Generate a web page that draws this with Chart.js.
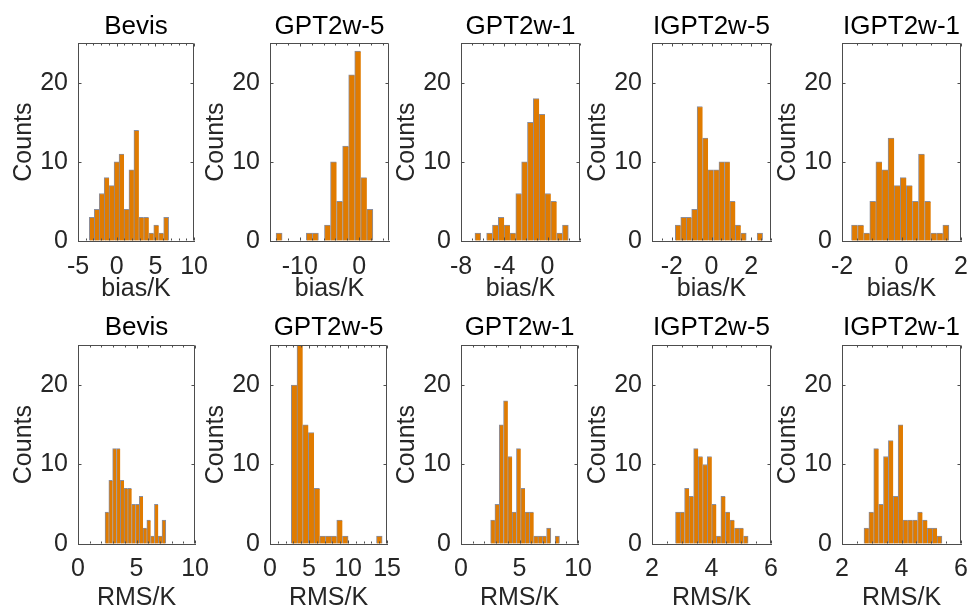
<!DOCTYPE html>
<html>
<head>
<meta charset="utf-8">
<script src="https://cdn.jsdelivr.net/npm/chart.js@4.4.1/dist/chart.umd.min.js"></script>
<style>
  html, body { margin: 0; padding: 0; background: #fff; width: 968px; height: 609px; overflow: hidden; }
  #wrap { position: relative; width: 968px; height: 609px; }
  #wrap canvas { position: absolute; }
</style>
</head>
<body>
<div id="wrap"></div>
<script>
// panel titles, same for both rows
const titles = ['Bevis', 'GPT2w-5', 'GPT2w-1', 'IGPT2w-5', 'IGPT2w-1'];

// bias histograms (counts per bin)
const biasBevis = [3, 4, 6, 8, 7, 10, 11, 4, 9, 14, 3, 3, 1, 2, 1, 3];
const biasGpt5  = [1, 0, 0, 0, 0, 1, 1, 0, 2, 10, 5, 12, 21, 24, 8, 4];
const biasGpt1  = [1, 0, 1, 2, 3, 2, 1, 6, 10, 15, 18, 16, 6, 5, 1, 2];
const biasIgpt5 = [2, 3, 3, 4, 17, 13, 9, 9, 10, 10, 5, 2, 1, 0, 0, 1];
const biasIgpt1 = [2, 2, 1, 5, 10, 9, 13, 7, 8, 7, 5, 11, 5, 1, 1, 2];

// RMS histograms (counts per bin)
const rmsBevis  = [4, 8, 12, 12, 8, 7, 7, 5, 5, 6, 2, 3, 1, 5, 1, 3];
const rmsGpt5   = [20, 25, 15, 14, 7, 1, 1, 1, 3, 1, 0, 0, 0, 0, 0, 1];
const rmsGpt1   = [3, 5, 15, 18, 11, 4, 12, 7, 4, 4, 1, 1, 1, 2, 0, 1];
const rmsIgpt5  = [4, 4, 7, 6, 12, 11, 10, 11, 5, 1, 6, 4, 3, 2, 2, 1];
const rmsIgpt1  = [2, 4, 12, 5, 11, 13, 6, 15, 3, 3, 3, 4, 3, 2, 2, 1];

// first and last bin edge of each histogram
const biasEdges = [[-3.54, 6.71], [-13.98, 2.29], [-6.71, 1.92], [-1.825, 2.577], [-1.68, 1.595]];
const rmsEdges  = [[2.31, 7.5], [2.73, 14.37], [2.53, 8.41], [2.79, 5.23], [2.74, 5.36]];

// x axis limits and tick labels
const biasLimits = [[-5, 10], [-15, 5], [-8, 3], [-3, 3], [-2, 2]];
const biasTicks  = [[-5, 0, 5, 10], [-10, 0], [-8, -4, 0], [-2, 0, 2], [-2, 0, 2]];
const biasMinor  = [1, 2, 1, 0.5, 0.5];
const rmsLimits  = [[0, 10], [0, 15], [0, 10], [2, 6], [2, 6]];
const rmsTicks   = [[0, 5, 10], [0, 5, 10, 15], [0, 5, 10], [2, 4, 6], [2, 4, 6]];
const rmsMinor   = [1, 1, 1, 0.5, 0.5];
const countTicks = [0, 10, 20];

Chart.defaults.font.family = "'Liberation Sans', Arial, Helvetica, sans-serif";
Chart.defaults.color = '#262626';

const boxLeft = [78, 270, 461, 652, 842];
const boxW = 119;
const yAxisW = 78;
const padRight = 22;
const frameColor = '#4d4d4d';
const rows = [
  { top: 0,   height: 302, padTop: 11, titleGap: 1, boxBottom: 241, tickPad: 11, xLabel: 'bias/K' },
  { top: 300, height: 311, padTop: 12, titleGap: 2, boxBottom: 244, tickPad: 10, xLabel: 'RMS/K' }
];

// top and right edge of the box plus inward ticks, like the original figure
function makeFrame(minor, major) {
  return {
    id: 'frame',
    afterDatasetsDraw(chart) {
      const ctx = chart.ctx;
      const x = chart.scales.x;
      const y = chart.scales.y;
      const L = Math.round(x.left) + 0.5;
      const R = Math.round(x.right) - 0.5;
      const T = Math.round(y.top) + 0.5;
      const B = Math.round(y.bottom) - 0.5;
      ctx.save();
      ctx.strokeStyle = frameColor;
      ctx.lineWidth = 1;
      ctx.beginPath();
      ctx.moveTo(L, T); ctx.lineTo(R, T); ctx.lineTo(R, B);
      for (let v = Math.ceil(x.min / minor) * minor; v <= x.max + 1e-9; v += minor) {
        const px = Math.round(x.getPixelForValue(v)) + 0.5;
        const len = major.some(m => Math.abs(m - v) < 1e-9) ? 3 : 2;
        ctx.moveTo(px, B); ctx.lineTo(px, B - len);
        ctx.moveTo(px, T); ctx.lineTo(px, T + len);
      }
      countTicks.forEach(v => {
        const py = Math.round(y.getPixelForValue(v)) + 0.5;
        ctx.moveTo(L, py); ctx.lineTo(L + 3, py);
        ctx.moveTo(R, py); ctx.lineTo(R - 3, py);
      });
      ctx.stroke();
      ctx.restore();
    }
  };
}

function makePanel(rowIdx, col, counts, edges, limits, ticks, minor) {
  const row = rows[rowIdx];
  const canvas = document.createElement('canvas');
  canvas.width = yAxisW + boxW + padRight;
  canvas.height = row.height;
  canvas.style.left = (boxLeft[col] - yAxisW) + 'px';
  canvas.style.top = row.top + 'px';
  document.getElementById('wrap').appendChild(canvas);

  const binW = (edges[1] - edges[0]) / counts.length;
  const points = counts.map((c, i) => ({ x: edges[0] + (i + 0.5) * binW, y: c }));

  new Chart(canvas, {
    type: 'bar',
    data: {
      datasets: [{
        data: points,
        backgroundColor: '#e07b00',
        borderColor: '#8a8e9e',
        borderSkipped: false,
        borderWidth: ctx => {
          const d = ctx.dataset.data;
          const i = ctx.dataIndex;
          const last = i === d.length - 1 || d[i + 1].y === 0;
          return { left: 1, top: 1, right: last ? 1 : 0, bottom: 0 };
        },
        barPercentage: 1,
        categoryPercentage: 1
      }]
    },
    plugins: [makeFrame(minor, ticks)],
    options: {
      responsive: false,
      animation: false,
      events: [],
      layout: { padding: { top: row.padTop, right: padRight, left: 0, bottom: 0 } },
      plugins: {
        legend: { display: false },
        tooltip: { enabled: false },
        title: {
          display: true,
          text: titles[col],
          fullSize: false,
          color: '#000',
          font: { size: 26, weight: 'normal', lineHeight: 1.2 },
          padding: { top: 0, bottom: row.titleGap }
        }
      },
      scales: {
        x: {
          type: 'linear',
          min: limits[0],
          max: limits[1],
          offset: false,
          grid: { display: true, drawOnChartArea: false, drawTicks: false, offset: false },
          border: { display: true, color: frameColor, width: 1 },
          afterBuildTicks: s => { s.ticks = ticks.map(v => ({ value: v })); },
          afterFit: s => { s.height = row.height - row.boxBottom; },
          ticks: {
            autoSkip: false,
            maxRotation: 0,
            padding: row.tickPad,
            color: '#262626',
            font: { size: 25 }
          },
          title: {
            display: true,
            text: row.xLabel,
            color: '#262626',
            font: { size: 25, lineHeight: 1 },
            padding: 0
          }
        },
        y: {
          min: 0,
          max: 25,
          grid: { display: true, drawOnChartArea: false, drawTicks: false },
          border: { display: true, color: frameColor, width: 1 },
          afterBuildTicks: s => { s.ticks = countTicks.map(v => ({ value: v })); },
          afterFit: s => { s.width = yAxisW; },
          ticks: {
            padding: 10,
            color: '#262626',
            font: { size: 25 }
          },
          title: {
            display: true,
            text: 'Counts',
            color: '#262626',
            font: { size: 25, lineHeight: 1 },
            padding: { top: 12, bottom: 0 }
          }
        }
      }
    }
  });
}

const biasSeries = [biasBevis, biasGpt5, biasGpt1, biasIgpt5, biasIgpt1];
const rmsSeries = [rmsBevis, rmsGpt5, rmsGpt1, rmsIgpt5, rmsIgpt1];

for (let c = 0; c < 5; c++) {
  makePanel(0, c, biasSeries[c], biasEdges[c], biasLimits[c], biasTicks[c], biasMinor[c]);
  makePanel(1, c, rmsSeries[c], rmsEdges[c], rmsLimits[c], rmsTicks[c], rmsMinor[c]);
}
</script>
</body>
</html>
